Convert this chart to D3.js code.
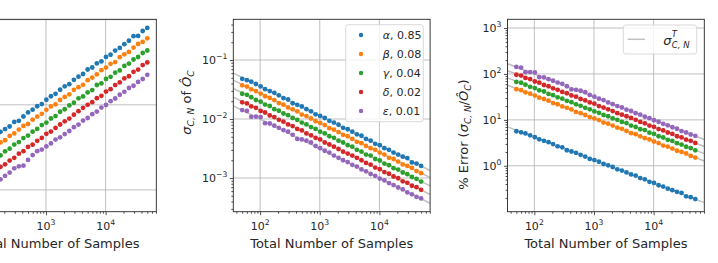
<!DOCTYPE html>
<html>
<head>
<meta charset="utf-8">
<script src="https://d3js.org/d3.v7.min.js"></script>
<style>
  body { margin: 0; background: #fff; }
  svg text { font-family: "DejaVu Sans", sans-serif; fill: #262626; }
</style>
</head>
<body>
<svg id="chart" width="718" height="263"></svg>
<script>
// total number of samples (x values, same for every panel)
const sampleSizes = [50, 60, 71, 85, 102, 121, 145, 173, 206, 246, 294, 351, 419, 500, 597, 713, 851, 1015,
  1212, 1447, 1727, 2062, 2462, 2939, 3508, 4188, 5000, 5969, 7125, 8506, 10154, 12121, 14470, 17274,
  20622, 24618, 29389, 35084, 41883, 50000];

const categories = ["α", "β", "γ", "δ", "ε"];
const proportions = [0.85, 0.08, 0.04, 0.02, 0.01];
const colors = ["#1f77b4", "#ff7f0e", "#2ca02c", "#d62728", "#9467bd"];

// measured sigma_{C,N} of O_C (middle panel), one list per category
const sigmaAlpha = [0.0480, 0.0455, 0.0430, 0.0392, 0.0356, 0.0320, 0.0297, 0.0278, 0.0252, 0.0226, 0.0214,
  0.0185, 0.0174, 0.0163, 0.0147, 0.0135, 0.0120, 0.0113, 0.0104, 0.0093, 0.0087, 0.0080, 0.0071, 0.0067,
  0.0061, 0.0055, 0.0052, 0.0046, 0.0043, 0.0038, 0.0036, 0.0032, 0.0030, 0.0027, 0.0025, 0.0023, 0.00218,
  0.00184, 0.00176, 0.00160];
const sigmaBeta = [0.0372, 0.0355, 0.0318, 0.0298, 0.0270, 0.0243, 0.0228, 0.0209, 0.0186, 0.0175, 0.0157,
  0.0146, 0.0135, 0.0119, 0.0112, 0.0102, 0.0092, 0.0086, 0.0079, 0.0070, 0.0066, 0.0060, 0.0054, 0.0051,
  0.0046, 0.0041, 0.0039, 0.0035, 0.0032, 0.0030, 0.0027, 0.0025, 0.0022, 0.0021, 0.0019, 0.0017, 0.0016,
  0.00148, 0.00131, 0.00121];
const sigmaGamma = [0.0268, 0.0257, 0.0234, 0.0210, 0.0197, 0.0176, 0.0166, 0.0147, 0.0138, 0.0124, 0.0116,
  0.0104, 0.0097, 0.0087, 0.0081, 0.0073, 0.0068, 0.0061, 0.0057, 0.0051, 0.0048, 0.0043, 0.0040, 0.0036,
  0.0034, 0.0030, 0.0028, 0.0025, 0.0024, 0.0021, 0.00198, 0.00176, 0.00165, 0.00147, 0.00139, 0.00124,
  0.00116, 0.00104, 0.00097, 0.00087];
const sigmaDelta = [0.0192, 0.0184, 0.0164, 0.0155, 0.0137, 0.0129, 0.0115, 0.0108, 0.0097, 0.0090, 0.0081,
  0.0076, 0.0068, 0.0064, 0.0057, 0.0053, 0.0048, 0.0045, 0.0040, 0.0037, 0.0034, 0.0031, 0.0028, 0.0026,
  0.0024, 0.0022, 0.0020, 0.0018, 0.00168, 0.00150, 0.00141, 0.00126, 0.00118, 0.00106, 0.00099, 0.00088,
  0.00083, 0.00074, 0.00070, 0.00063];
const sigmaEpsilon = [0.0142, 0.0137, 0.0109, 0.0110, 0.0108, 0.0085, 0.0084, 0.0077, 0.0071, 0.0065, 0.0061,
  0.0054, 0.0046, 0.0045, 0.0043, 0.0040, 0.0035, 0.0032, 0.0029, 0.0027, 0.0024, 0.0022, 0.0020, 0.00186,
  0.00167, 0.00156, 0.00140, 0.00130, 0.00117, 0.00109, 0.00098, 0.00091, 0.00082, 0.00076, 0.00069,
  0.00064, 0.00057, 0.00053, 0.00048, 0.00045];
const sigmaSeries = [sigmaAlpha, sigmaBeta, sigmaGamma, sigmaDelta, sigmaEpsilon];

// grey theory lines sigma^T_{C,N}, value at both ends of the x range
const theoryN = [35.5, 70800];
const theorySigma = [[0.0599, 0.00134], [0.0455, 0.00102], [0.0329, 0.000736], [0.0235, 0.000526], [0.0167, 0.000374]];
const theoryPercent = [[7.05, 0.158], [56.9, 1.274], [82.2, 1.841], [117.5, 2.631], [167.0, 3.739]];

const xTicks = [1e2, 1e3, 1e4];

const svg = d3.select("#chart");
const plotW = 196.8, plotH = 192.4, plotTop = 19.3;
const xDomain = [Math.pow(10, 1.55), Math.pow(10, 4.85)];

const panels = [
  { left: -40.5, yDomain: [Math.pow(10, -0.256), Math.pow(10, 2.005)], yTicks: [1, 10, 100],
    // std of the count: sigma * N
    value: (s, i, k) => s * sampleSizes[k], lines: null },
  { left: 233.3, yDomain: [Math.pow(10, -3.571), Math.pow(10, -0.31)], yTicks: [1e-3, 1e-2, 1e-1],
    value: (s, i, k) => s, lines: theorySigma, ylabel: "sigma" },
  { left: 507.5, yDomain: [Math.pow(10, -1.0), Math.pow(10, 3.19)], yTicks: [1, 10, 100, 1000],
    // percent error: sigma / p
    value: (s, i, k) => 100 * s / proportions[i], lines: theoryPercent, ylabel: "error" }
];

function minorTicks(domain) {
  const out = [];
  for (let e = -5; e <= 6; e++) {
    for (let m = 2; m <= 9; m++) {
      const v = m * Math.pow(10, e);
      if (v > domain[0] && v < domain[1]) out.push(v);
    }
  }
  return out;
}

function powLabel(sel, exp, size) {
  sel.append("tspan").text("10");
  sel.append("tspan").attr("dy", -size * 0.45).attr("font-size", size * 0.7)
    .text(exp < 0 ? "\u2212" + (-exp) : exp);
}

panels.forEach((p, pi) => {
  const g = svg.append("g").attr("transform", "translate(" + p.left + "," + plotTop + ")");
  const x = d3.scaleLog().domain(xDomain).range([0, plotW]);
  const y = d3.scaleLog().domain(p.yDomain).range([plotH, 0]);

  const clipId = "clip" + pi;
  g.append("clipPath").attr("id", clipId).append("rect").attr("width", plotW).attr("height", plotH);

  // grid
  g.append("g").selectAll("line").data(xTicks).join("line")
    .attr("x1", d => x(d)).attr("x2", d => x(d)).attr("y1", 0).attr("y2", plotH)
    .attr("stroke", "#b0b0b0").attr("stroke-width", 0.8);
  g.append("g").selectAll("line").data(p.yTicks).join("line")
    .attr("x1", 0).attr("x2", plotW).attr("y1", d => y(d)).attr("y2", d => y(d))
    .attr("stroke", "#b0b0b0").attr("stroke-width", 0.8);

  const plot = g.append("g").attr("clip-path", "url(#" + clipId + ")");

  // theory lines
  if (p.lines) {
    p.lines.forEach(ends => {
      plot.append("line")
        .attr("x1", x(theoryN[0])).attr("x2", x(theoryN[1]))
        .attr("y1", y(ends[0])).attr("y2", y(ends[1]))
        .attr("stroke", "#c0c0c0").attr("stroke-width", 1.5);
    });
  }

  // points
  sigmaSeries.forEach((ser, i) => {
    plot.append("g").selectAll("circle").data(ser).join("circle")
      .attr("cx", (d, k) => x(sampleSizes[k]))
      .attr("cy", (d, k) => y(p.value(d, i, k)))
      .attr("r", 2.4)
      .attr("fill", colors[i]);
  });

  // axes
  const xAxis = d3.axisBottom(x).tickValues(xTicks).tickFormat("").tickSize(3.5);
  g.append("g").attr("transform", "translate(0," + plotH + ")").call(xAxis)
    .call(a => a.select(".domain").remove());
  const xMinor = d3.axisBottom(x).tickValues(minorTicks(xDomain)).tickFormat("").tickSize(2);
  g.append("g").attr("transform", "translate(0," + plotH + ")").call(xMinor)
    .call(a => a.select(".domain").remove());
  const yAxis = d3.axisLeft(y).tickValues(p.yTicks).tickFormat("").tickSize(3.5);
  g.append("g").call(yAxis).call(a => a.select(".domain").remove());
  const yMinor = d3.axisLeft(y).tickValues(minorTicks(p.yDomain)).tickFormat("").tickSize(2);
  g.append("g").call(yMinor).call(a => a.select(".domain").remove());
  g.selectAll(".tick line").attr("stroke", "#262626").attr("stroke-width", 0.8);

  // tick labels (only those that fall inside the page)
  xTicks.forEach(t => {
    if (p.left + x(t) - 8 < 0) return;
    const tx = g.append("text").attr("x", x(t)).attr("y", plotH + 18)
      .attr("text-anchor", "middle").attr("font-size", 11);
    powLabel(tx, Math.round(Math.log10(t)), 11);
  });
  if (p.left > 0) {
    p.yTicks.forEach(t => {
      const ty = g.append("text").attr("x", -6).attr("y", y(t) + 4)
        .attr("text-anchor", "end").attr("font-size", 11);
      powLabel(ty, Math.round(Math.log10(t)), 11);
    });
  }

  // frame
  g.append("rect").attr("width", plotW).attr("height", plotH)
    .attr("fill", "none").attr("stroke", "#262626").attr("stroke-width", 0.9);

  // x label
  g.append("text").attr("x", plotW / 2).attr("y", plotH + 36)
    .attr("text-anchor", "middle").attr("font-size", 13).text("Total Number of Samples");

  // y labels
  if (p.ylabel === "sigma") {
    const t = g.append("text").attr("transform", "translate(-42," + (plotH / 2 - 13) + ") rotate(-90)")
      .attr("text-anchor", "middle").attr("font-size", 13);
    t.append("tspan").attr("font-style", "italic").text("σ");
    t.append("tspan").attr("font-style", "italic").attr("font-size", 9).attr("dy", 3).text("C, N");
    t.append("tspan").attr("dy", -3).text(" of ");
    t.append("tspan").attr("font-style", "italic").text("Ô");
    t.append("tspan").attr("font-style", "italic").attr("font-size", 9).attr("dy", 3).text("C");
  }
  if (p.ylabel === "error") {
    const t = g.append("text").attr("transform", "translate(-40," + (plotH / 2 + 19) + ") rotate(-90)")
      .attr("text-anchor", "middle").attr("font-size", 13);
    t.append("tspan").text("% Error (");
    t.append("tspan").attr("font-style", "italic").text("σ");
    t.append("tspan").attr("font-style", "italic").attr("font-size", 9).attr("dy", 3).text("C, N");
    t.append("tspan").attr("dy", -3).text("/");
    t.append("tspan").attr("font-style", "italic").text("Ô");
    t.append("tspan").attr("font-style", "italic").attr("font-size", 9).attr("dy", 3).text("C");
    t.append("tspan").attr("dy", -3).text(")");
  }

  // legends
  if (pi === 1) {
    const lg = g.append("g").attr("transform", "translate(112.4,5.4)");
    lg.append("rect").attr("width", 77.6).attr("height", 97).attr("rx", 2.5)
      .attr("fill", "#fff").attr("fill-opacity", 0.8).attr("stroke", "#d5d5d5").attr("stroke-width", 0.9);
    categories.forEach((c, i) => {
      const row = lg.append("g").attr("transform", "translate(0," + (10.3 + i * 19) + ")");
      row.append("circle").attr("cx", 15.3).attr("cy", 0).attr("r", 2.2).attr("fill", colors[i]);
      const t = row.append("text").attr("x", 37).attr("y", 4).attr("font-size", 11);
      t.append("tspan").attr("font-style", "italic").text(c);
      t.append("tspan").text(", " + proportions[i].toFixed(2));
    });
  }
  if (pi === 2) {
    const lg = g.append("g").attr("transform", "translate(115.8,5.7)");
    lg.append("rect").attr("width", 73.4).attr("height", 29).attr("rx", 2.5)
      .attr("fill", "#fff").attr("fill-opacity", 0.8).attr("stroke", "#d5d5d5").attr("stroke-width", 0.9);
    lg.append("line").attr("x1", 4.4).attr("x2", 21.7).attr("y1", 14.3).attr("y2", 14.3)
      .attr("stroke", "#c0c0c0").attr("stroke-width", 1.5);
    lg.append("text").attr("x", 40).attr("y", 19.5).attr("font-size", 13)
      .attr("font-style", "italic").text("σ");
    lg.append("text").attr("x", 48.5).attr("y", 12).attr("font-size", 8.5)
      .attr("font-style", "italic").text("T");
    lg.append("text").attr("x", 48.5).attr("y", 23).attr("font-size", 8.5)
      .attr("font-style", "italic").text("C, N");
  }
});
</script>
</body>
</html>
